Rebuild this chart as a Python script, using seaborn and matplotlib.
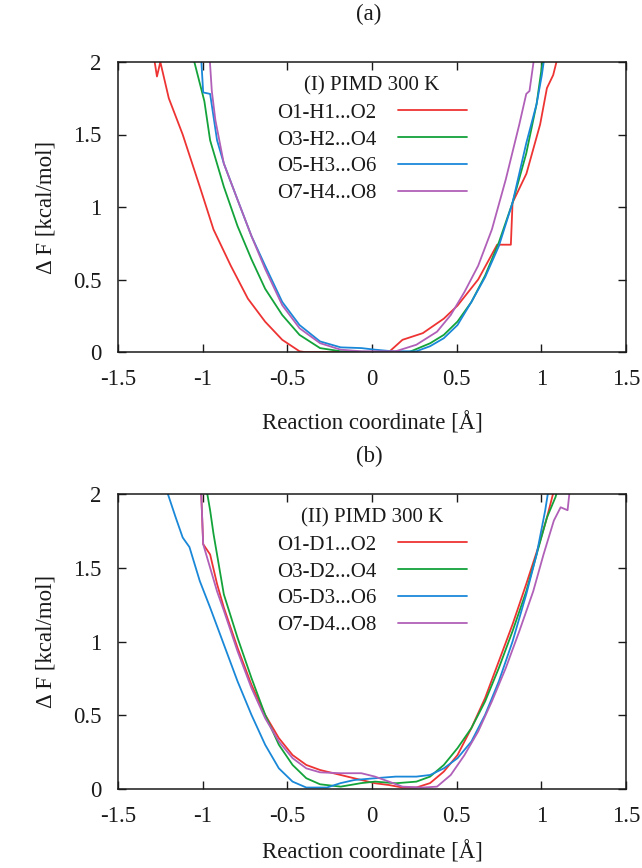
import numpy as np
import pandas as pd
import matplotlib
matplotlib.use("Agg")
import matplotlib.pyplot as plt
import seaborn as sns
from matplotlib.ticker import FuncFormatter

# ---------------- data ----------------
# Panel (a): (I) PIMD 300 K
a_names = ["O1-H1...O2", "O3-H2...O4", "O5-H3...O6", "O7-H4...O8"]
a1_x = [-1.29, -1.27, -1.25, -1.20, -1.118, -1.017, -0.936, -0.834, -0.733, -0.631, -0.530, -0.428, -0.40,
        0.10, 0.18, 0.30, 0.424, 0.505, 0.627, 0.739, 0.82, 0.83, 0.912, 0.993, 1.033, 1.07, 1.10]
a1_y = [2.05, 1.90, 2.00, 1.75, 1.50, 1.14, 0.845, 0.595, 0.368, 0.209, 0.084, 0.005, 0.0,
        0.0, 0.084, 0.13, 0.23, 0.32, 0.50, 0.74, 0.74, 1.03, 1.23, 1.57, 1.82, 1.91, 2.05]
a2_x = [-1.06, -0.99, -0.956, -0.875, -0.794, -0.712, -0.631, -0.530, -0.428, -0.307, -0.185, 0.0,
        0.22, 0.343, 0.424, 0.505, 0.587, 0.668, 0.749, 0.83, 0.911, 0.972, 1.013]
a2_y = [2.05, 1.73, 1.46, 1.14, 0.868, 0.64, 0.436, 0.255, 0.118, 0.027, 0.005, 0.0,
        0.0, 0.06, 0.118, 0.21, 0.345, 0.527, 0.755, 1.03, 1.37, 1.71, 2.05]
a3_x = [-1.01, -0.997, -0.956, -0.915, -0.875, -0.794, -0.712, -0.631, -0.530, -0.428, -0.307, -0.185,
        -0.063, 0.018, 0.12, 0.262, 0.343, 0.424, 0.505, 0.587, 0.668, 0.749, 0.83, 0.911, 0.972, 1.003, 1.02]
a3_y = [2.05, 1.79, 1.78, 1.46, 1.30, 1.05, 0.80, 0.595, 0.345, 0.186, 0.073, 0.032,
        0.027, 0.016, 0.005, 0.005, 0.04, 0.095, 0.186, 0.345, 0.516, 0.73, 1.03, 1.44, 1.71, 1.91, 2.05]
a4_x = [-0.96, -0.946, -0.925, -0.875, -0.794, -0.712, -0.631, -0.530, -0.428, -0.307, -0.185, -0.063,
        0.14, 0.262, 0.384, 0.465, 0.546, 0.627, 0.708, 0.79, 0.87, 0.911, 0.93, 0.96]
a4_y = [2.05, 1.80, 1.60, 1.30, 1.05, 0.80, 0.573, 0.323, 0.164, 0.061, 0.016, 0.005,
        0.005, 0.05, 0.14, 0.255, 0.414, 0.595, 0.845, 1.19, 1.57, 1.78, 1.80, 2.05]

# Panel (b): (II) PIMD 300 K
b_names = ["O1-D1...O2", "O3-D2...O4", "O5-D3...O6", "O7-D4...O8"]
b1_x = [-1.01, -0.997, -0.956, -0.915, -0.875, -0.794, -0.712, -0.631, -0.55, -0.469, -0.388, -0.307,
        -0.185, -0.063, 0.018, 0.10, 0.18, 0.262, 0.343, 0.424, 0.505, 0.587, 0.668, 0.749, 0.83,
        0.911, 0.982, 1.033, 1.08]
b1_y = [2.05, 1.66, 1.59, 1.39, 1.23, 0.957, 0.707, 0.503, 0.345, 0.23, 0.163, 0.129,
        0.095, 0.061, 0.039, 0.027, 0.01, 0.01, 0.04, 0.118, 0.23, 0.413, 0.617, 0.866, 1.116,
        1.39, 1.64, 1.84, 2.05]
b2_x = [-0.98, -0.956, -0.936, -0.875, -0.794, -0.712, -0.631, -0.55, -0.469, -0.388, -0.307, -0.185,
        -0.063, 0.018, 0.14, 0.262, 0.343, 0.424, 0.505, 0.587, 0.668, 0.749, 0.83, 0.911, 0.972,
        1.033, 1.084, 1.10]
b2_y = [2.05, 1.89, 1.73, 1.32, 1.025, 0.753, 0.503, 0.30, 0.163, 0.073, 0.032, 0.016,
        0.04, 0.05, 0.039, 0.05, 0.084, 0.163, 0.277, 0.413, 0.594, 0.82, 1.07, 1.34, 1.59,
        1.84, 1.98, 2.05]
b3_x = [-1.22, -1.159, -1.118, -1.078, -1.017, -0.956, -0.875, -0.794, -0.712, -0.631, -0.55, -0.469,
        -0.388, -0.266, -0.185, -0.104, 0.018, 0.14, 0.262, 0.343, 0.424, 0.505, 0.587, 0.668, 0.749,
        0.83, 0.911, 0.972, 1.023, 1.045]
b3_y = [2.05, 1.84, 1.705, 1.64, 1.41, 1.23, 0.98, 0.73, 0.503, 0.30, 0.14, 0.05,
        0.01, 0.01, 0.04, 0.061, 0.073, 0.084, 0.084, 0.095, 0.14, 0.209, 0.322, 0.503, 0.73,
        1.0, 1.32, 1.59, 1.89, 2.05]
b4_x = [-1.01, -0.997, -0.956, -0.915, -0.875, -0.794, -0.712, -0.631, -0.55, -0.469, -0.388, -0.307,
        -0.185, -0.063, 0.018, 0.10, 0.18, 0.30, 0.384, 0.465, 0.546, 0.627, 0.708, 0.79, 0.87,
        0.952, 1.013, 1.074, 1.114, 1.155, 1.17]
b4_y = [2.05, 1.66, 1.50, 1.34, 1.21, 0.934, 0.685, 0.48, 0.322, 0.209, 0.14, 0.113,
        0.107, 0.107, 0.084, 0.05, 0.016, 0.01, 0.016, 0.095, 0.23, 0.39, 0.594, 0.82, 1.07,
        1.34, 1.59, 1.82, 1.91, 1.89, 2.05]

colors = ["#ee3333", "#13a33a", "#1a88d8", "#b060b8"]
x_ticks = [-1.5, -1, -0.5, 0, 0.5, 1, 1.5]
y_ticks = [0, 0.5, 1, 1.5, 2]

# ---------------- styling ----------------
sns.set_theme(style="ticks")
plt.rcParams["font.family"] = ["Liberation Serif", "DejaVu Serif"]
plt.rcParams["axes.unicode_minus"] = False
FS = 16.5
LFS = 15
INK = "#1a1a1a"

fig = plt.figure(figsize=(6.42, 8.68), dpi=100)
ax_a = fig.add_axes([118/642, 1-352/868, 508/642, 290/868])
ax_b = fig.add_axes([118/642, 1-789/868, 508/642, 295/868])

def make_df(xs, ys, names):
    rows = []
    for xv, yv, n in zip(xs, ys, names):
        for i, (a, b) in enumerate(zip(xv, yv)):
            rows.append({"x": a, "y": b, "series": n, "i": i})
    return pd.DataFrame(rows)

df_a = make_df([a1_x, a2_x, a3_x, a4_x], [a1_y, a2_y, a3_y, a4_y], a_names)
df_b = make_df([b1_x, b2_x, b3_x, b4_x], [b1_y, b2_y, b3_y, b4_y], b_names)

fmt = FuncFormatter(lambda v, p: "%g" % v)

for ax, df, names, title, ttl_y, tag, xlp in [(ax_a, df_a, a_names, "(I) PIMD 300 K", 14, "(a)", 16),
                                              (ax_b, df_b, b_names, "(II) PIMD 300 K", 456, "(b)", 10)]:
    sns.lineplot(data=df, x="x", y="y", hue="series", hue_order=names,
                 palette=dict(zip(names, colors)), estimator=None, sort=False,
                 units="series", linewidth=1.3, ax=ax, legend=False)
    for n, c in zip(names, colors):
        ax.plot([], [], color=c, lw=1.3, label=n)
    ax.set_xlim(-1.5, 1.5)
    ax.set_ylim(0, 2)
    ax.set_xticks(x_ticks)
    ax.set_yticks(y_ticks)
    ax.xaxis.set_major_formatter(fmt)
    ax.yaxis.set_major_formatter(fmt)
    ax.tick_params(direction="in", top=True, right=True, length=6, width=1,
                   labelsize=FS, colors=INK)
    ax.tick_params(axis="y", pad=12)
    ax.tick_params(axis="x", pad=12)
    for s in ax.spines.values():
        s.set_linewidth(1.1)
        s.set_color(INK)
    ax.set_xlabel("Reaction coordinate [Å]", fontsize=FS, labelpad=xlp, color=INK)
    ax.set_ylabel("Δ F [kcal/mol]", fontsize=FS, labelpad=12, color=INK)
    leg = ax.legend(title=title, loc="upper center", bbox_to_anchor=(0.5, 1.0),
                    frameon=False, markerfirst=False, fontsize=LFS, title_fontsize=LFS,
                    handlelength=3.3, handletextpad=1.05, labelspacing=0.35,
                    borderaxespad=0.3)
    for t in leg.get_texts():
        t.set_color(INK)
    leg.get_title().set_color(INK)
    fig.text(0.575, 1 - ttl_y/868, tag, ha="center", va="center",
             fontsize=FS, color=INK)

fig.savefig("out.png", dpi=100)
